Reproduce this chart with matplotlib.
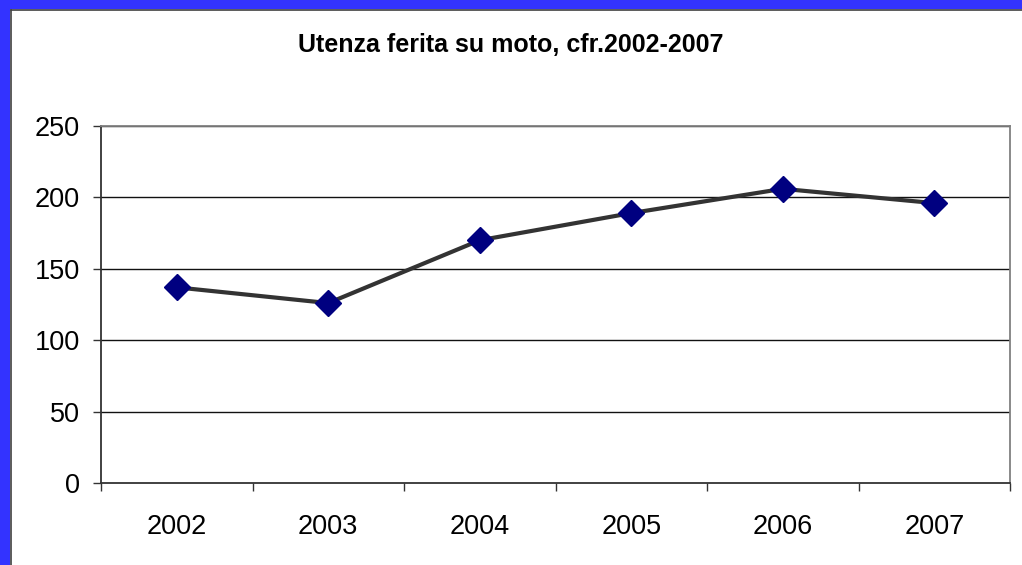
import matplotlib.pyplot as plt
from matplotlib.patches import Rectangle
from matplotlib.lines import Line2D

# Data
years = ["2002", "2003", "2004", "2005", "2006", "2007"]
injured = [137, 126, 170, 189, 206, 196]
y_ticks = [0, 50, 100, 150, 200, 250]

plt.rcParams["font.family"] = ["Liberation Sans", "DejaVu Sans"]

W, H = 1022, 565
fig = plt.figure(figsize=(W / 100, H / 100), dpi=100)

# Blue frame on the left and top edges, with a thin dark inner border
fig.patches.append(Rectangle((0, 0), 10 / W, 1, transform=fig.transFigure,
                             facecolor="#3333ff", edgecolor="none", zorder=0))
fig.patches.append(Rectangle((0, 1 - 9 / H), 1, 9 / H, transform=fig.transFigure,
                             facecolor="#3333ff", edgecolor="none", zorder=0))
fig.lines.append(Line2D([10.5 / W, 10.5 / W], [0, 1 - 9.5 / H], transform=fig.transFigure,
                        color="#404040", lw=1.2))
fig.lines.append(Line2D([10.5 / W, 1], [1 - 9.5 / H, 1 - 9.5 / H], transform=fig.transFigure,
                        color="#404040", lw=1.2))

# Plot area: x 101..1010, y 126..483 pixels
ax = fig.add_axes([101 / W, 1 - 483 / H, (1010 - 101) / W, (483 - 126) / H])

x = list(range(len(years)))
ax.plot(x, injured, color="#333333", lw=3, zorder=3,
        marker="D", markersize=13.5, markerfacecolor="#000080", markeredgecolor="#000080")

ax.set_xlim(-0.5, len(years) - 0.5)
ax.set_ylim(0, 250)
ax.set_yticks(y_ticks)
ax.set_yticklabels([str(v) for v in y_ticks], fontsize=19.5)
for v in y_ticks[1:]:
    ax.axhline(v, color="#111111", lw=1.0, zorder=1)

# Category labels at centers, tick marks at boundaries
ax.set_xticks([i - 0.5 for i in range(len(years) + 1)])
ax.set_xticklabels([])
ax.set_xticks(x, minor=True)
ax.set_xticklabels(years, minor=True, fontsize=19.5)
ax.tick_params(axis="x", which="minor", length=0, pad=22)
ax.tick_params(axis="x", which="major", length=6, width=1, color="#333333", direction="out")
ax.tick_params(axis="y", length=6, width=1, color="#333333", direction="out", pad=9)

ax.spines["left"].set_color("#333333")
ax.spines["bottom"].set_color("#333333")
ax.spines["left"].set_linewidth(1.3)
ax.spines["bottom"].set_linewidth(1.3)
ax.spines["top"].set_color("#808080")
ax.spines["right"].set_color("#808080")
ax.spines["top"].set_linewidth(1.3)
ax.spines["right"].set_linewidth(1.3)

fig.text(0.5, 1 - 45 / H, "Utenza ferita su moto, cfr.2002-2007",
         ha="center", va="center", fontsize=18, fontweight="bold")

fig.savefig("out.png", dpi=100)
